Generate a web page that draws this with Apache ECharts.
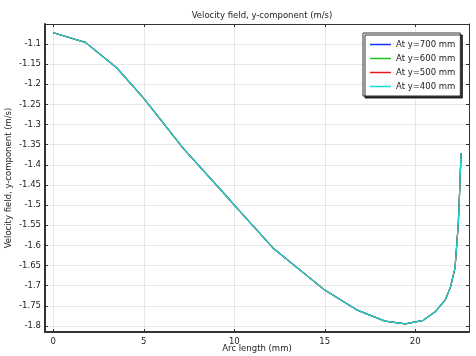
<!DOCTYPE html>
<html>
<head>
<meta charset="utf-8">
<script src="https://cdn.jsdelivr.net/npm/echarts@6/dist/echarts.min.js"></script>
<style>html,body{margin:0;padding:0;background:#fff}#c{width:476px;height:356px}</style>
</head>
<body>
<div id="c"></div>
<script>
const arcLength = [0, 1.77, 3.5, 5.0, 7.18, 9.67, 10.0, 12.15, 15.0, 16.76, 18.33, 19.45, 20.44, 21.1, 21.65, 21.95, 22.2, 22.38, 22.47, 22.53];
const v700 = [-1.072, -1.096, -1.159, -1.235, -1.359, -1.483, -1.500, -1.607, -1.711, -1.760, -1.788, -1.795, -1.786, -1.765, -1.736, -1.703, -1.655, -1.545, -1.446, -1.371];
const v600 = [-1.072, -1.096, -1.159, -1.235, -1.359, -1.483, -1.500, -1.607, -1.711, -1.760, -1.788, -1.795, -1.786, -1.765, -1.736, -1.703, -1.655, -1.545, -1.446, -1.371];
const v500 = [-1.072, -1.096, -1.159, -1.235, -1.359, -1.483, -1.500, -1.607, -1.711, -1.760, -1.788, -1.795, -1.786, -1.765, -1.736, -1.703, -1.655, -1.545, -1.446, -1.371];
const v400 = [-1.072, -1.096, -1.159, -1.235, -1.359, -1.483, -1.500, -1.607, -1.711, -1.760, -1.788, -1.795, -1.786, -1.765, -1.736, -1.703, -1.655, -1.545, -1.446, -1.371];
const seriesNames = ['At y=700 mm', 'At y=600 mm', 'At y=500 mm', 'At y=400 mm'];
const seriesColors = ['#1030ff', '#20c020', '#e81818', '#10dada'];
const xTicks = [0, 5, 10, 15, 20];
const yTicks = [-1.8, -1.75, -1.7, -1.65, -1.6, -1.55, -1.5, -1.45, -1.4, -1.35, -1.3, -1.25, -1.2, -1.15, -1.1];

const font = 'DejaVu Sans';
const fs = 8.5;
const pairs = (ys) => arcLength.map((x, i) => [x, ys[i]]);
const allData = [v700, v600, v500, v400];

const chart = echarts.init(document.getElementById('c'), null, {renderer: 'canvas'});
const axisLineStyle = {color: '#333', width: 1};
chart.setOption({
  animation: false,
  title: {
    text: 'Velocity field, y-component (m/s)',
    left: 257, top: 6, textAlign: 'center',
    textStyle: {fontFamily: font, fontSize: fs, fontWeight: 'normal', color: '#222'}
  },
  grid: {left: 45, right: 7, top: 24, bottom: 24, show: false, outerBoundsMode: 'none', containLabel: false},
  legend: {
    left: 363, top: 33, orient: 'vertical',
    itemWidth: 21, itemHeight: 1.5, itemGap: 5,
    padding: [7, 5, 5, 7],
    borderColor: '#333', borderWidth: 1, backgroundColor: '#fff',
    shadowColor: 'rgba(0,0,0,0.8)', shadowBlur: 0, shadowOffsetX: 2, shadowOffsetY: 2,
    textStyle: {fontFamily: font, fontSize: fs, color: '#222'},
    data: seriesNames.map(n => ({name: n, icon: 'rect'}))
  },
  xAxis: [{
    type: 'value', min: -0.46, max: 22.97,
    name: 'Arc length (mm)', nameLocation: 'middle', nameGap: 12, nameMoveOverlap: false,
    nameTextStyle: {fontFamily: font, fontSize: fs, color: '#222'},
    axisLine: {show: true, onZero: false, lineStyle: {color: '#333', width: 2}},
    axisTick: {show: true, inside: true, length: 3, customValues: xTicks, lineStyle: {color: '#333'}},
    axisLabel: {customValues: xTicks, fontFamily: font, fontSize: fs, color: '#222', margin: 5},
    splitLine: {show: true, lineStyle: {color: '#e6e6e6', width: 1}}
  }, {
    type: 'value', min: -0.46, max: 22.97, position: 'top',
    axisLine: {show: true, onZero: false, lineStyle: axisLineStyle},
    axisTick: {show: true, inside: true, length: 3, customValues: xTicks, lineStyle: {color: '#333'}},
    axisLabel: {show: false, customValues: xTicks},
    splitLine: {show: false}
  }],
  yAxis: [{
    type: 'value', min: -1.815, max: -1.0504,
    name: 'Velocity field, y-component (m/s)', nameLocation: 'middle', nameGap: 32, nameMoveOverlap: false,
    nameTextStyle: {fontFamily: font, fontSize: fs, color: '#222'},
    axisLine: {show: true, onZero: false, lineStyle: {color: '#333', width: 2}},
    axisTick: {show: true, inside: true, length: 3, customValues: yTicks, lineStyle: {color: '#333'}},
    axisLabel: {customValues: yTicks, fontFamily: font, fontSize: fs, color: '#222', margin: 4,
      formatter: v => String(Math.round(v * 100) / 100)},
    splitLine: {show: true, lineStyle: {color: '#e6e6e6', width: 1}}
  }, {
    type: 'value', min: -1.815, max: -1.0504, position: 'right',
    axisLine: {show: true, onZero: false, lineStyle: axisLineStyle},
    axisTick: {show: true, inside: true, length: 3, customValues: yTicks, lineStyle: {color: '#333'}},
    axisLabel: {show: false, customValues: yTicks},
    splitLine: {show: false}
  }],
  series: seriesNames.map((n, i) => ({
    name: n, type: 'line', data: pairs(allData[i]),
    xAxisIndex: 0, yAxisIndex: 0,
    symbol: 'none', showSymbol: false, smooth: false,
    itemStyle: {color: seriesColors[i]},
    lineStyle: {color: seriesColors[i], width: 1.2},
    z: 2 + i
  }))
});
</script>
</body>
</html>
